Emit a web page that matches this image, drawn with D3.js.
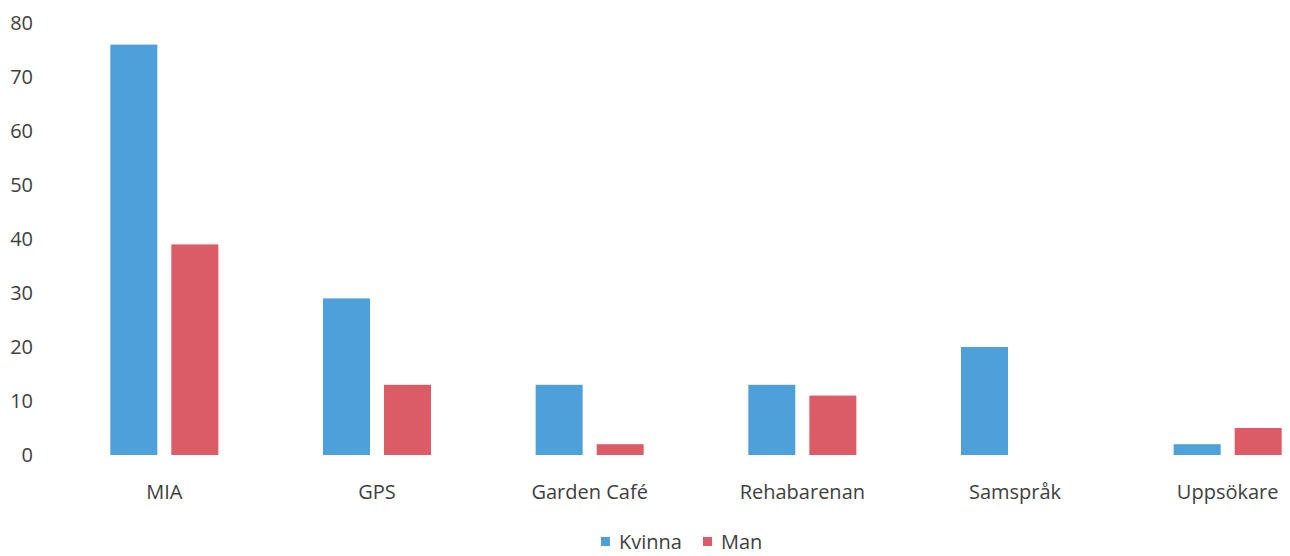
<!DOCTYPE html>
<html>
<head>
<meta charset="utf-8">
<script src="https://cdn.jsdelivr.net/npm/d3@7"></script>
<style>
  html, body { margin: 0; padding: 0; background: #fff; }
  svg { display: block; overflow: hidden; }
  text { font-family: "Open Sans", "Noto Sans", sans-serif; fill: #404040; }
</style>
</head>
<body>
<svg id="chart" width="1290" height="556"></svg>
<script>
// ---- data ----
const categories = ["MIA", "GPS", "Garden Café", "Rehabarenan", "Samspråk", "Uppsökare"];
const seriesNames = ["Kvinna", "Man"];
const kvinna = [76, 29, 13, 13, 20, 2];
const man = [39, 13, 2, 11, 0, 5];
const yTicks = [0, 10, 20, 30, 40, 50, 60, 70, 80];
const colors = ["#4DA0DA", "#DB5B67"];

const seriesValues = [kvinna, man];
const rows = categories.map((c, i) => ({
  category: c,
  values: seriesNames.map((s, j) => ({ series: s, value: seriesValues[j][i] }))
}));

const svg = d3.select("#chart");

const x0 = d3.scaleBand()
  .domain(categories)
  .range([58, 1334])
  .paddingInner(0.492)
  .paddingOuter(0.246);

const x1 = d3.scaleBand()
  .domain(seriesNames)
  .range([0, x0.bandwidth()])
  .paddingInner(0.23);

const y = d3.scaleLinear().domain([0, 80]).range([455, 23]);
const color = d3.scaleOrdinal().domain(seriesNames).range(colors);

// y axis labels (no line, no ticks)
const yAxis = d3.axisLeft(y).tickValues(yTicks).tickSize(0).tickPadding(0);
const gy = svg.append("g").attr("transform", "translate(33,0)").call(yAxis);
gy.select(".domain").remove();
gy.selectAll("text")
  .attr("dy", "0.3em")
  .style("font-size", "20px")
  .style("font-family", "'Open Sans', sans-serif")
  .attr("fill", "#404040");

// bars
const groups = svg.append("g").selectAll("g")
  .data(rows)
  .join("g")
  .attr("transform", d => `translate(${x0(d.category)},0)`);

groups.selectAll("rect")
  .data(d => d.values)
  .join("rect")
  .attr("x", d => x1(d.series))
  .attr("width", x1.bandwidth())
  .attr("y", d => y(d.value))
  .attr("height", d => y(0) - y(d.value))
  .attr("fill", d => color(d.series));

// x axis labels
const xAxis = d3.axisBottom(x0).tickSize(0).tickPadding(0);
const gx = svg.append("g").attr("transform", "translate(0,480)").call(xAxis);
gx.select(".domain").remove();
gx.selectAll("text")
  .attr("dy", "0.35em")
  .attr("y", 12)
  .style("font-size", "20px")
  .style("font-family", "'Open Sans', sans-serif")
  .attr("fill", "#404040");

// legend
const legend = svg.append("g").attr("transform", "translate(601,542)");
const legendOffsets = [0, 102];
const items = legend.selectAll("g")
  .data(seriesNames)
  .join("g")
  .attr("transform", (d, i) => `translate(${legendOffsets[i]},0)`);
items.append("rect")
  .attr("x", 0).attr("y", -5)
  .attr("width", 9).attr("height", 9)
  .attr("fill", d => color(d));
items.append("text")
  .attr("x", 18).attr("y", 0)
  .attr("dy", "0.35em")
  .style("font-size", "20px")
  .text(d => d);
</script>
</body>
</html>
